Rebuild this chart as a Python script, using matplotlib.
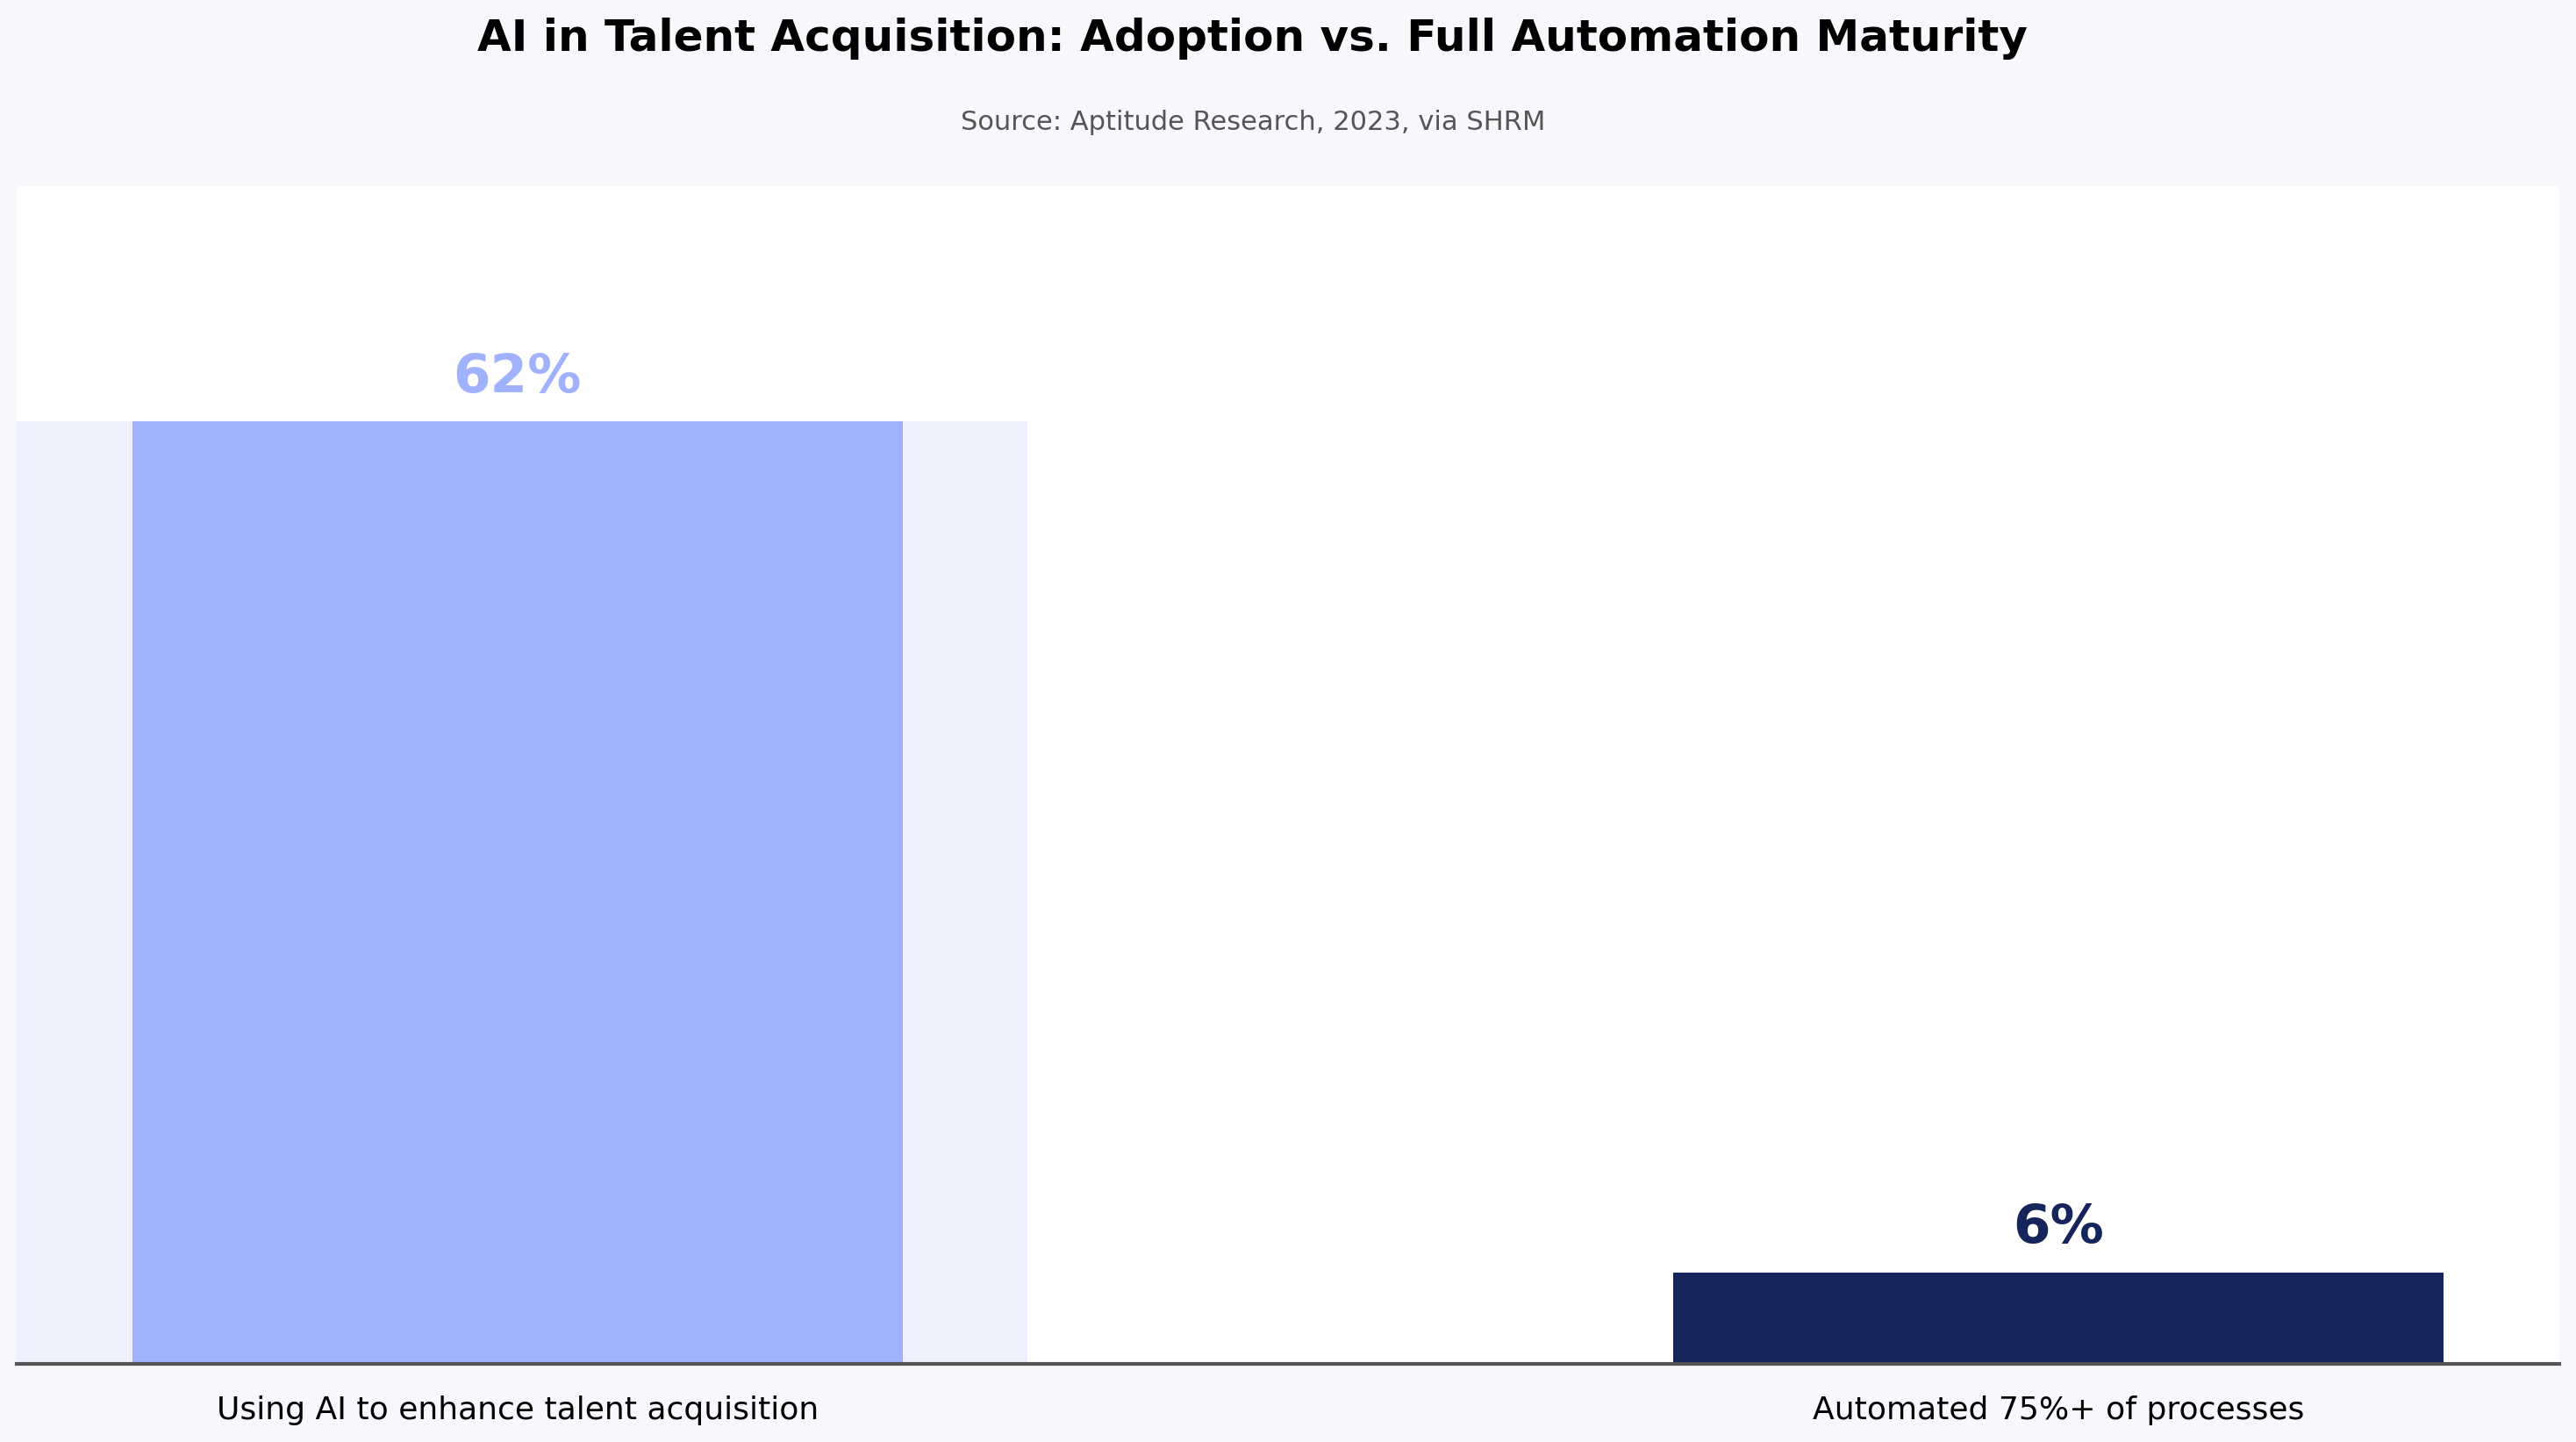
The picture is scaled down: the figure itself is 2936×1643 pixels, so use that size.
import matplotlib
matplotlib.use("Agg")
import matplotlib.pyplot as plt

# Data
categories = ["Using AI to enhance talent acquisition", "Automated 75%+ of processes"]
values = [62, 6]
labels = ["62%", "6%"]
bar_colors = ["#a0b2fe", "#15245a"]

fig = plt.figure(figsize=(14.68, 8.215), dpi=200, facecolor="#f7f8fc")
ax = fig.add_axes([0.0065, 0.0542, 0.987, 0.8168])
ax.set_facecolor("white")

x = list(range(len(categories)))

# light highlight band behind the first bar
ax.fill_between([-0.5, 0.331], 0, values[0], color="#eff2fe", linewidth=0, zorder=1)

ax.bar(x, values, width=0.5, color=bar_colors, zorder=2)

for xi, v, lab, c in zip(x, values, labels, bar_colors):
    ax.annotate(lab, (xi, v), xytext=(0, 7.5), textcoords="offset points",
                ha="center", va="bottom", fontsize=22, fontweight="bold", color=c)

ax.set_xlim(-0.325, 1.325)
ax.set_ylim(0, 77.5)
ax.set_xticks(x)
ax.set_xticklabels(categories, fontsize=13)
ax.tick_params(axis="x", length=0, pad=13)
ax.set_yticks([])

for side in ["top", "right", "left"]:
    ax.spines[side].set_visible(False)
ax.spines["bottom"].set_color("#555555")
ax.spines["bottom"].set_linewidth(1.5)

fig.text(0.4863, 0.973, "AI in Talent Acquisition: Adoption vs. Full Automation Maturity",
         ha="center", va="center", fontsize=18, fontweight="bold")
fig.text(0.4863, 0.915, "Source: Aptitude Research, 2023, via SHRM",
         ha="center", va="center", fontsize=11, color="#555555")

fig.savefig("out.png", dpi=200, facecolor=fig.get_facecolor())
